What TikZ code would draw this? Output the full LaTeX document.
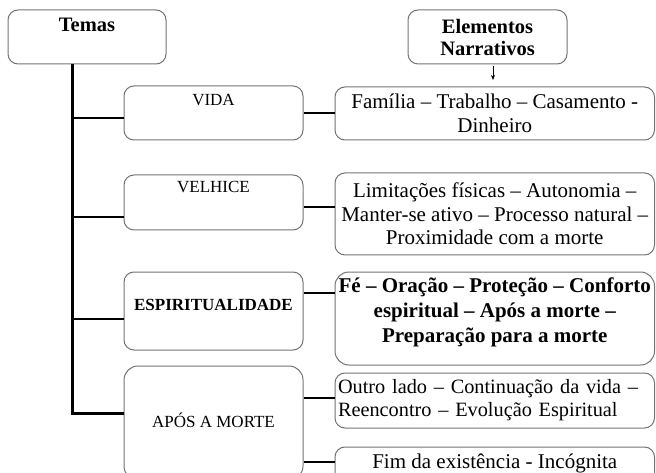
\documentclass[tikz,border=0pt]{standalone}
\usepackage{fontspec}
\setmainfont{Liberation Serif}
\usetikzlibrary{arrows.meta}

\begin{document}
\begin{tikzpicture}[x=1pt, y=-1pt,
	box/.style={draw=black!55, line width=1pt, rounded corners=10pt, inner sep=0pt},
	head/.style={font=\bfseries\fontsize{20.5}{22}\selectfont, align=center},
	theme/.style={font=\fontsize{17}{20}\selectfont},
	narr/.style={font=\fontsize{21}{23.5}\selectfont, align=center},
	inlabel/.style={anchor=north, inner sep=0pt},
	link/.style={line width=2.5pt}]
	\useasboundingbox (0,0) rectangle (656,473);
	\clip (0,0) rectangle (656,473);

	\node[box, minimum width=158pt, minimum height=54pt, label={[inlabel, head, yshift=-8.3pt]north:Temas}] (temas) at (87,37) {};
	\node[box, head, minimum width=159pt, minimum height=54pt] (narrhead) at (487.5,37) {Elementos\\Narrativos};

	\node[box, minimum width=179pt, minimum height=54pt, label={[inlabel, theme, yshift=-9pt]north:VIDA}] (vida) at (213.5,113) {};
	\node[box, minimum width=179pt, minimum height=55pt, label={[inlabel, theme, yshift=-7pt]north:VELHICE}] (velhice) at (213.5,202.5) {};
	\node[box, minimum width=179pt, minimum height=78pt, label={[inlabel, font=\bfseries\fontsize{17}{20}\selectfont, yshift=-28pt]north:ESPIRITUALIDADE}] (espir) at (213.5,311) {};
	\node[box, rounded corners=14pt, minimum width=179pt, minimum height=114pt, label={[inlabel, theme, yshift=-47.5pt]north:APÓS A MORTE}] (apos) at (213.5,423) {};

	\node[box, narr, minimum width=319.5pt, minimum height=53pt] (fam) at (494.75,113.5) {Família – Trabalho – Casamento -\\Dinheiro};
	\node[box, narr, minimum width=319.5pt, minimum height=82pt] (lim) at (494.75,214) {Limitações físicas – Autonomia –\\Manter-se ativo – Processo natural –\\Proximidade com a morte};
	\node[box, rounded corners=14pt, minimum width=319.5pt, minimum height=93pt, label={[inlabel, font=\bfseries\fontsize{21}{25}\selectfont, align=center, yshift=-6pt]north:Fé – Oração – Proteção – Conforto\\espiritual – Após a morte –\\Preparação para a morte}] (fe) at (494.75,318.5) {};
	\node[box, font=\fontsize{20.3}{23}\selectfont, text width=313.5pt, inner xsep=3pt, align=left, minimum height=55pt] (outro) at (494.75,400.5) {Outro lado – Continuação da vida –\\Reencontro – Evolução Espiritual};
	\node[box, minimum width=319.5pt, minimum height=63pt, label={[inlabel, narr, yshift=-7.5pt]north:Fim da existência - Incógnita}] (fim) at (494.75,478.5) {};

	\coordinate (trunk) at ([xshift=-15pt]temas.south);
	\coordinate (tip) at (493,80);

	\draw[link, line width=3pt] (trunk) |- ([yshift=10pt]apos.west);
	\draw[link] ([yshift=-5pt]vida.west) coordinate (b1) -- (b1 -| trunk);
	\draw[link] ([yshift=-14.5pt]velhice.west) coordinate (b2) -- (b2 -| trunk);
	\draw[link] ([yshift=-8pt]espir.west) coordinate (b3) -- (b3 -| trunk);

	\draw[link] (vida.east) coordinate (r1) -- (r1 -| fam.west);
	\draw[link] ([yshift=-4.5pt]velhice.east) coordinate (r2) -- (r2 -| lim.west);
	\draw[link] ([yshift=18pt]espir.east) coordinate (r3) -- (r3 -| fe.west);
	\draw[link] ([yshift=25pt]apos.east) coordinate (r4) -- (r4 -| outro.west);
	\draw[link] ([yshift=-39pt]apos.east) coordinate (r5) -- (r5 -| fim.west);

	\draw[-{Stealth[length=5pt, width=4pt]}, line width=0.8pt, shorten <=2pt] (narrhead.south -| tip) -- (tip);
\end{tikzpicture}
\end{document}
